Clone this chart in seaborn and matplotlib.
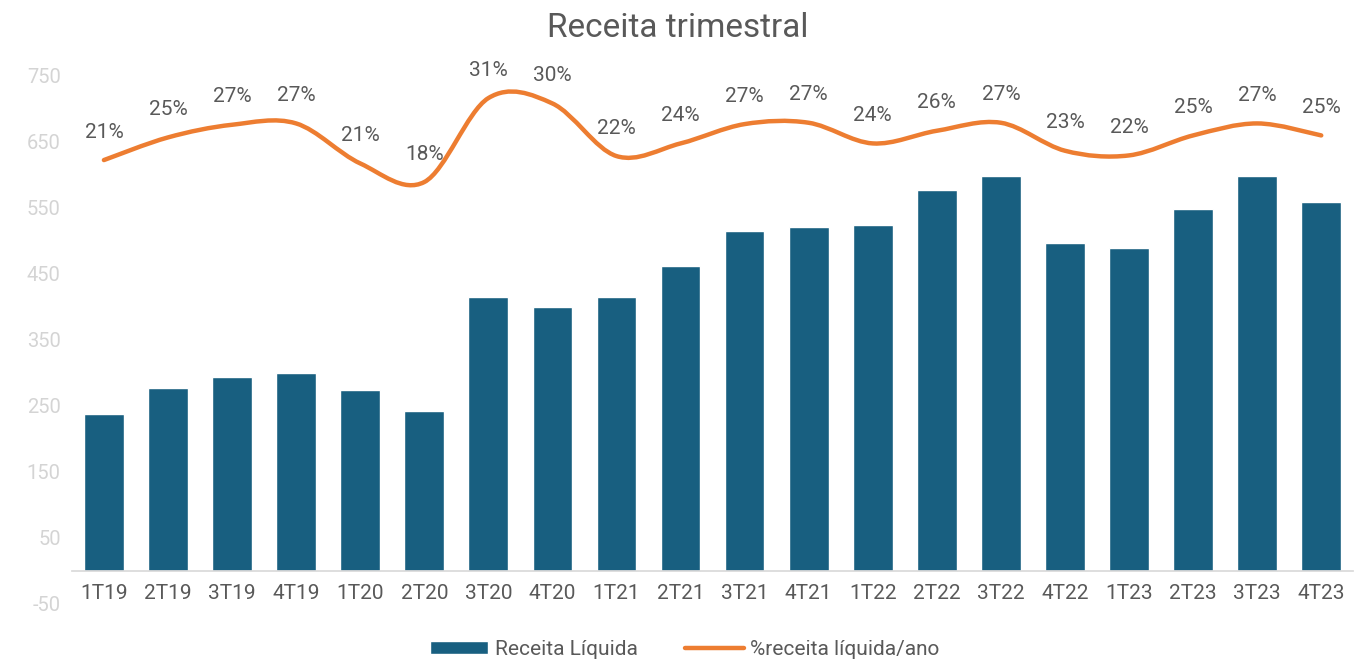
import numpy as np
import matplotlib
matplotlib.use("Agg")
import matplotlib.pyplot as plt
import seaborn as sns
from matplotlib.path import Path
from matplotlib.patches import PathPatch, Patch
from matplotlib.lines import Line2D

# --- dados ---
trimestres = ["1T19", "2T19", "3T19", "4T19", "1T20", "2T20", "3T20", "4T20", "1T21", "2T21",
              "3T21", "4T21", "1T22", "2T22", "3T22", "4T22", "1T23", "2T23", "3T23", "4T23"]
receita = [238, 276, 294, 300, 273, 242, 414, 400, 415, 461,
           514, 521, 524, 577, 598, 497, 488, 548, 598, 558]
pct_ano = [0.213, 0.247, 0.266, 0.268, 0.208, 0.180, 0.306, 0.298, 0.219, 0.238,
           0.267, 0.269, 0.238, 0.257, 0.269, 0.227, 0.220, 0.250, 0.268, 0.250]

COR_BARRA = "#185f80"
COR_LINHA = "#ed7d31"
COR_TEXTO = "#595959"

sns.set_theme(style="white")
plt.rcParams["font.family"] = ["Roboto", "DejaVu Sans"]
plt.rcParams["axes.unicode_minus"] = False

fig = plt.figure(figsize=(13.56, 6.62), dpi=100)
ax = fig.add_axes([0.053, 0.088, 0.945, 0.798])

sns.barplot(x=trimestres, y=receita, color=COR_BARRA, width=0.62, saturation=1, ax=ax)
ax.set_ylim(-50, 750)
ax.set_yticks(np.arange(-50, 751, 100))
ax.set_xlim(-0.5, len(trimestres) - 0.5)
ax.tick_params(axis="y", colors="#d4d4d4", labelsize=14.5, length=0, pad=8)
ax.set_xlabel("")
ax.set_ylabel("")
for s in ["top", "right", "left"]:
    ax.spines[s].set_visible(False)
ax.spines["bottom"].set_position(("data", 0))
ax.spines["bottom"].set_color("#d9d9d9")
ax.xaxis.set_tick_params(which="both", bottom=False)
# rótulos x logo abaixo da linha do zero
ax.set_xticks(range(len(trimestres)))
ax.set_xticklabels([])
for i, t in enumerate(trimestres):
    ax.text(i, -20, t, ha="center", va="top", fontsize=15, color=COR_TEXTO)

# eixo secundário (oculto) para a linha
ax2 = ax.twinx()
ax2.set_ylim(-0.453, 0.340)
ax2.axis("off")

# linha suavizada (Bezier, estilo Excel)
xs = np.arange(len(pct_ano), dtype=float)
ys = np.array(pct_ano)
verts = [(xs[0], ys[0])]
codes = [Path.MOVETO]
n = len(xs)
for i in range(n - 1):
    p0 = np.array([xs[max(i - 1, 0)], ys[max(i - 1, 0)]])
    p1 = np.array([xs[i], ys[i]])
    p2 = np.array([xs[i + 1], ys[i + 1]])
    p3 = np.array([xs[min(i + 2, n - 1)], ys[min(i + 2, n - 1)]])
    c1 = p1 + (p2 - p0) / 6
    c2 = p2 - (p3 - p1) / 6
    verts += [tuple(c1), tuple(c2), tuple(p2)]
    codes += [Path.CURVE4] * 3
ax2.add_patch(PathPatch(Path(verts, codes), facecolor="none", edgecolor=COR_LINHA,
                        lw=3.2, capstyle="round", joinstyle="round"))

for x, y in zip(xs, ys):
    ax2.annotate(f"{round(y * 100):d}%", (x, y), xytext=(0, 20), textcoords="offset points",
                 ha="center", va="center", fontsize=15, color=COR_TEXTO)

fig.suptitle("Receita trimestral", y=0.982, fontsize=24, color=COR_TEXTO)

handles = [Patch(facecolor=COR_BARRA, label="Receita Líquida"),
           Line2D([0], [0], color=COR_LINHA, lw=3.2, label="%receita líquida/ano")]
fig.legend(handles=handles, loc="lower center", bbox_to_anchor=(0.505, -0.024), ncol=2,
           frameon=False, fontsize=15, labelcolor=COR_TEXTO, handlelength=2.8,
           handleheight=0.6, columnspacing=2.3, handletextpad=0.3)

fig.savefig("out.png", dpi=100)
